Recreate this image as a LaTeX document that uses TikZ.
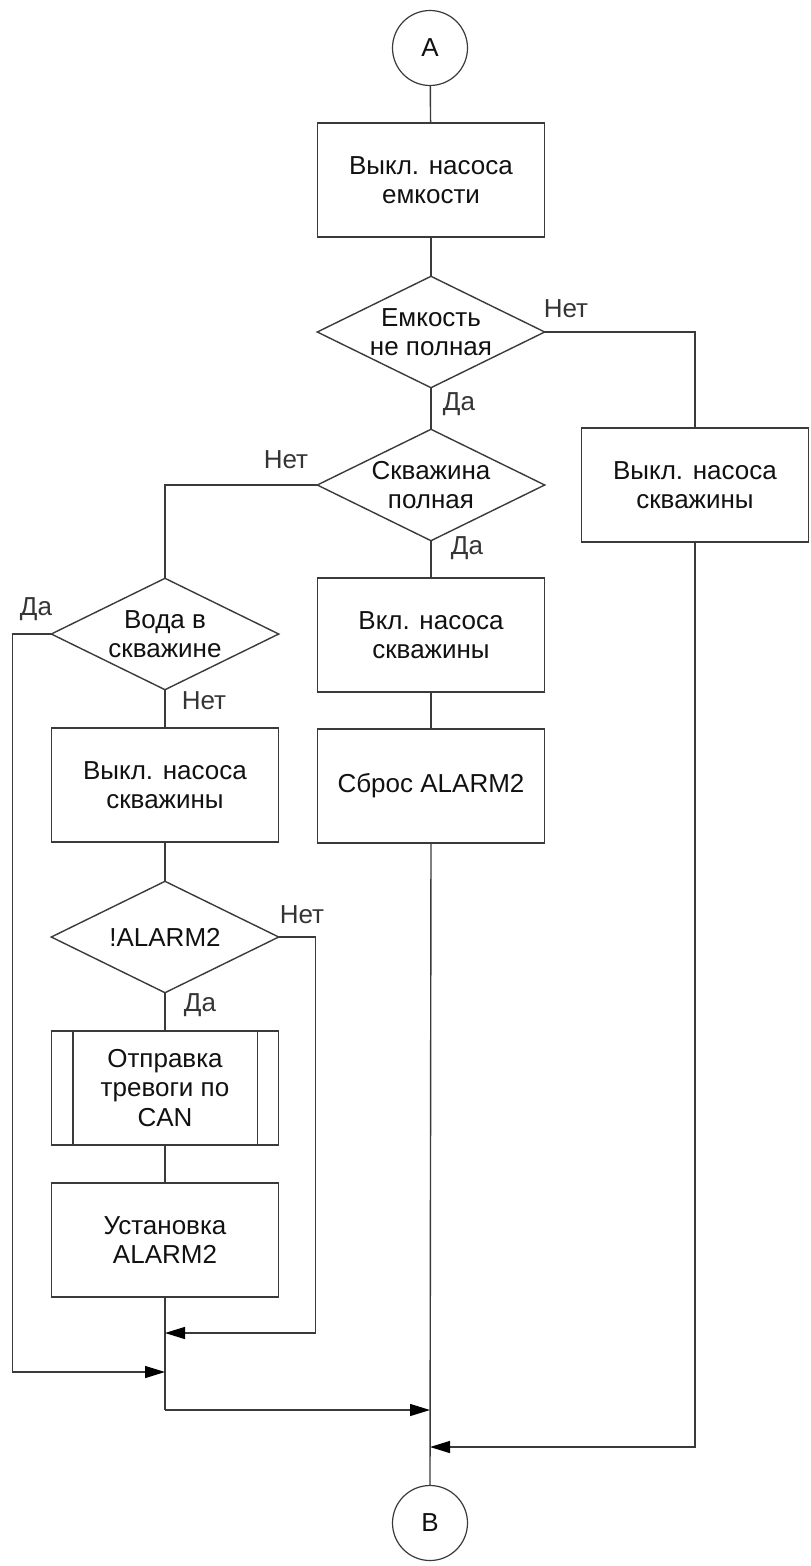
\documentclass[tikz,border=0pt]{standalone}
\usepackage{fontspec}
\setmainfont{Liberation Sans}
\usetikzlibrary{arrows.meta}
\definecolor{linec}{HTML}{3A3A3A}
\definecolor{textc}{HTML}{111111}
\begin{document}
\begin{tikzpicture}[x=1pt,y=-1pt,
  every node/.style={font=\fontsize{26}{29.5}\selectfont, text=textc},
  conn/.style={draw=linec, line width=1.4pt},
  arr/.style={conn, -{Triangle[length=20pt,width=12pt,color=black]}},
  outline/.style={draw=linec, line width=1.4pt, line join=miter},
  procbox/.style={draw=linec, line width=1.4pt, rectangle, minimum width=227pt, minimum height=114pt, align=center, inner sep=0pt},
  decision/.style={rectangle, minimum width=227pt, minimum height=111pt, align=center, inner sep=0pt},
  conncircle/.style={draw=linec, line width=1.2pt, circle, minimum size=75pt, inner sep=0pt},
  lbl/.style={inner sep=0pt, text=textc!85}]
\useasboundingbox (0,0) rectangle (811,1566);

% connectors at the top and bottom
\node[conncircle] (A) at (430,48) {A};
\node[conncircle] (B) at (430,1523) {B};

% main column
\node[procbox] (b1) at (431,180) {Выкл. насоса\\емкости};
\node[decision] (d1) at (431,332) {Емкость\\не полная};
\node[decision] (d2) at (431,485) {Скважина\\полная};
\node[procbox] (b3) at (431,635) {Вкл. насоса\\скважины};
\node[procbox] (b4) at (431,786) {Сброс ALARM2};

% right column
\node[procbox] (b2) at (695,485) {Выкл. насоса\\скважины};

% left column
\node[decision] (d3) at (165,634) {Вода в\\скважине};
\node[procbox] (b5) at (165,785) {Выкл. насоса\\скважины};
\node[decision] (d4) at (165,937) {!ALARM2};
\node[procbox] (s1) at (165,1088) {Отправка\\тревоги по\\CAN};
\node[procbox] (b6) at (165,1240) {Установка\\ALARM2};

% diamond outlines of the decisions
\foreach \d in {d1,d2,d3,d4}
  \draw[outline] (\d.north) -- (\d.east) -- (\d.south) -- (\d.west) -- cycle;

% side bars of the predefined process
\draw[outline] ([xshift=22pt]s1.north west) -- ([xshift=22pt]s1.south west)
               ([xshift=-22pt]s1.north east) -- ([xshift=-22pt]s1.south east);

% branch labels
\node[lbl] (l1) at (566,309) {Нет};
\node[lbl] (l2) at (459,404) {Да};
\node[lbl] (l3) at (286,460) {Нет};
\node[lbl] (l4) at (467,548) {Да};
\node[lbl] (l5) at (36,609) {Да};
\node[lbl] (l6) at (204,701) {Нет};
\node[lbl] (l7) at (302,915) {Нет};
\node[lbl] (l8) at (200,1005) {Да};

% junction points
\coordinate (j1) at (165,1333);
\coordinate (j2) at (165,1372);
\coordinate (j3) at (165,1410);
\coordinate (k1) at (430,1410);
\coordinate (k2) at (430,1447);

% flow lines
\draw[conn] (A) -- (b1);
\draw[conn] (b1) -- (d1.north);
\draw[conn] (d1.south) -- (d2.north);
\draw[conn] (d1.east) -| (b2.north);
\draw[arr] (b2.south) |- (k2);
\draw[conn] (d2.south) -- (b3.north);
\draw[conn] (b3) -- (b4);
\draw[conn] (b4.south) -- (B.north);
\draw[conn] (d2.west) -| (d3.north);
\draw[conn] (d3.south) -- (b5.north);
\draw[conn] (b5) -- (d4.north);
\draw[conn] (d4.south) -- (s1.north);
\draw[conn] (s1) -- (b6);
\draw[conn] (b6.south) -- (j3);
\draw[arr] (j3) -- (k1);
\draw[arr] (d3.west) -- ++(-39,0) |- (j2);
\draw[arr] (d4.east) -- ++(37,0) |- (j1);
\end{tikzpicture}
\end{document}
